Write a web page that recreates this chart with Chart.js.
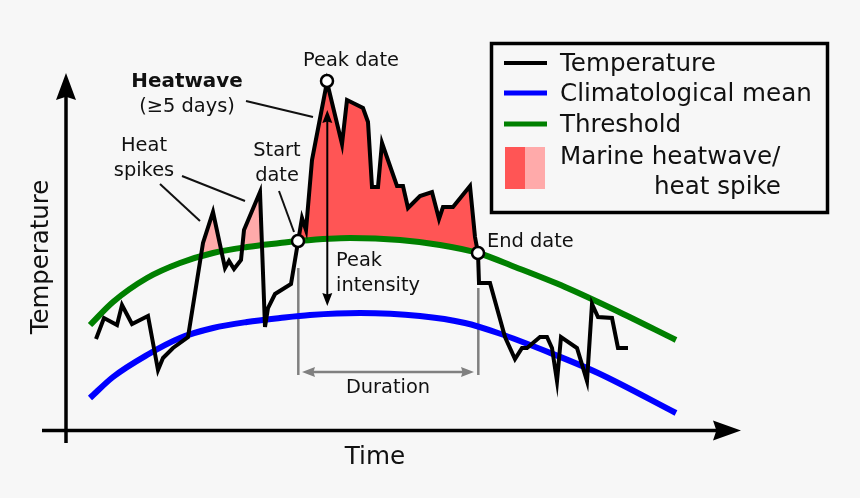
<!DOCTYPE html>
<html>
<head>
<meta charset="utf-8">
<style>
body { margin: 0; background: #f7f7f7; }
canvas { display: block; }
</style>
<script src="https://cdn.jsdelivr.net/npm/chart.js@4"></script>
</head>
<body>
<canvas id="chart" width="860" height="498"></canvas>
<script>
// Time and temperature are in arbitrary units
const tempTime = [3.0,3.8,5.1,5.6,6.6,8.2,9.2,9.7,10.7,12.2,13.7,14.7,15.9,16.3,16.8,17.5,17.8,19.4,19.9,20.2,20.9,22.5,23.2,
  23.6,24.0,24.6,26.1,27.6,28.1,29.7,30.2,30.6,31.2,31.6,33.1,33.7,34.2,35.4,36.6,37.3,37.7,38.7,40.4,40.9,41.2,
  41.3,42.4,43.9,44.9,45.6,46.1,47.4,48.1,48.6,49.1,49.5,51.1,52.1,52.6,53.2,54.6,55.2,56.2];
const temperature = [9.1,11.2,10.5,12.5,10.6,11.4,6.0,7.2,8.2,9.3,18.7,21.8,16.2,16.9,16.1,17.0,20.0,23.8,10.3,12.2,13.6,14.6,18.8,
  21.2,20.0,27.0,34.8,28.6,33.0,32.2,30.8,24.3,24.3,28.7,24.4,24.4,22.2,23.4,23.8,21.1,22.3,22.3,24.4,19.3,17.7,
  14.7,14.7,9.3,7.1,8.2,8.2,9.3,9.3,8.2,4.9,9.3,8.2,4.9,12.6,11.3,11.2,8.2,8.2];

const threshTime = [2.4,4.7,8.1,11.4,14.7,18.1,21.4,23.2,28.4,33.4,37.4,41.2,44.9,49.9,54.9,61.0];
const threshold = [10.5,12.8,15.2,16.7,17.7,18.3,18.7,18.9,19.2,19.0,18.5,17.7,16.3,14.3,12.0,9.0];

const meanTime = [2.4,4.7,8.1,11.4,14.7,18.1,21.4,24.4,29.4,35.4,39.9,43.2,48.2,53.2,61.0];
const climMean = [3.2,5.3,7.5,9.2,10.2,10.8,11.2,11.5,11.7,11.4,10.7,9.7,7.8,5.7,1.7];

const keyTime = [23.2,26.1,41.2];
const keyTemp = [18.9,34.9,17.7];

const pairs = (xs, ys) => xs.map((x, i) => ({ x: x, y: ys[i] }));
const tempPoints = pairs(tempTime, temperature);

const DARK_RED = "#ff5555";
const LIGHT_RED = "#ffaaaa";
const INK = "#111";
const GREY = "#808080";
const FONT = "'DejaVu Sans'";

function fillAbove(points, color) {
  return {
    data: points,
    borderWidth: 0,
    pointRadius: 0,
    order: 5,
    fill: { target: 3, above: color, below: "rgba(0,0,0,0)" }
  };
}

// ------------------------------------------------------
// Axes, labels and legend box
// ------------------------------------------------------

function line(ctx, x1, y1, x2, y2, color, width) {
  ctx.strokeStyle = color;
  ctx.lineWidth = width;
  ctx.beginPath();
  ctx.moveTo(x1, y1);
  ctx.lineTo(x2, y2);
  ctx.stroke();
}

function head(ctx, x, y, angle, len, wide, color) {
  ctx.save();
  ctx.translate(x, y);
  ctx.rotate(angle);
  ctx.fillStyle = color;
  ctx.beginPath();
  ctx.moveTo(0, 0);
  ctx.lineTo(-len, wide / 2);
  ctx.lineTo(-len * 0.88, 0);
  ctx.lineTo(-len, -wide / 2);
  ctx.closePath();
  ctx.fill();
  ctx.restore();
}

function label(ctx, text, x, y, size, align, weight) {
  ctx.font = (weight || "normal") + " " + size + "px " + FONT;
  ctx.fillStyle = INK;
  ctx.textAlign = align || "center";
  ctx.textBaseline = "middle";
  ctx.fillText(text, x, y);
}

const decorations = {
  id: "decorations",
  beforeDatasetsDraw(chart) {
    const ctx = chart.ctx;
    ctx.save();
    // duration guides
    line(ctx, 298.3, 268, 298.3, 375, GREY, 2.5);
    line(ctx, 478.3, 288, 478.3, 375, GREY, 2.5);
    line(ctx, 310, 372, 466, 372, GREY, 2.5);
    head(ctx, 302, 372, Math.PI, 13, 10, GREY);
    head(ctx, 474, 372, 0, 13, 10, GREY);
    ctx.restore();
  },
  afterDatasetsDraw(chart) {
    const ctx = chart.ctx;
    ctx.save();

    // axes
    line(ctx, 66, 443, 66, 95, "#000", 3.5);
    head(ctx, 66, 73, -Math.PI / 2, 27, 20, "#000");
    line(ctx, 42, 430.5, 720, 430.5, "#000", 3.5);
    head(ctx, 741, 430.5, 0, 28, 20, "#000");

    // leaders
    line(ctx, 160, 184, 200, 221, INK, 2);
    line(ctx, 182, 176, 245, 201, INK, 2);
    line(ctx, 279, 191, 294, 232, INK, 2);
    line(ctx, 246, 101, 313, 117, INK, 2);

    // peak intensity arrow
    line(ctx, 327.3, 120, 327.3, 296, "#000", 2);
    head(ctx, 327.3, 110, -Math.PI / 2, 13, 10, "#000");
    head(ctx, 327.3, 306, Math.PI / 2, 13, 10, "#000");

    label(ctx, "Peak date", 351, 61, 19.4);
    label(ctx, "Heatwave", 187, 82, 19.9, "center", "bold");
    label(ctx, "(≥5 days)", 187, 107, 19.4);
    label(ctx, "Heat", 144, 146, 19.4);
    label(ctx, "spikes", 144, 171, 19.4);
    label(ctx, "Start", 277, 151, 19.4);
    label(ctx, "date", 277, 176, 19.4);
    label(ctx, "Peak", 336, 261, 19.4, "left");
    label(ctx, "intensity", 336, 286, 19.4, "left");
    label(ctx, "Duration", 388, 388, 19.4);
    label(ctx, "End date", 487, 242, 19.4, "left");
    label(ctx, "Time", 375, 458, 24.7);

    ctx.save();
    ctx.translate(42, 257);
    ctx.rotate(-Math.PI / 2);
    label(ctx, "Temperature", 0, 0, 24.4);
    ctx.restore();

    // legend
    ctx.strokeStyle = "#000";
    ctx.lineWidth = 3.5;
    ctx.strokeRect(491.5, 43.5, 336, 169);
    line(ctx, 504, 63, 547, 63, "#000", 4);
    line(ctx, 504, 93, 547, 93, "#0000ff", 5);
    line(ctx, 504, 124, 547, 124, "#008000", 5);
    ctx.fillStyle = DARK_RED;
    ctx.fillRect(505, 147, 20, 42);
    ctx.fillStyle = LIGHT_RED;
    ctx.fillRect(525, 147, 20, 42);
    label(ctx, "Temperature", 560, 65, 24.6, "left");
    label(ctx, "Climatological mean", 560, 95, 24.6, "left");
    label(ctx, "Threshold", 560, 126, 24.6, "left");
    label(ctx, "Marine heatwave/", 560, 158, 24.6, "left");
    label(ctx, "heat spike", 781, 188, 24.6, "right");

    ctx.restore();
  }
};

// ------------------------------------------------------
// Chart
// ------------------------------------------------------

new Chart(document.getElementById("chart"), {
  type: "line",
  data: {
    datasets: [
      {
        // key dates
        data: pairs(keyTime, keyTemp),
        showLine: false,
        pointRadius: 6,
        pointBorderWidth: 2.5,
        pointBackgroundColor: "#fff",
        pointBorderColor: "#000",
        order: 0
      },
      {
        data: tempPoints,
        borderColor: "#000",
        borderWidth: 4,
        pointRadius: 0,
        order: 1
      },
      {
        data: pairs(meanTime, climMean),
        borderColor: "#0000ff",
        borderWidth: 6,
        pointRadius: 0,
        cubicInterpolationMode: "monotone",
        order: 3
      },
      {
        data: pairs(threshTime, threshold),
        borderColor: "#008000",
        borderWidth: 6,
        pointRadius: 0,
        cubicInterpolationMode: "monotone",
        order: 2
      },
      fillAbove(tempPoints.slice(9, 13), LIGHT_RED),
      fillAbove(tempPoints.slice(15, 19), LIGHT_RED),
      fillAbove(tempPoints.slice(22, 45), DARK_RED)
    ]
  },
  options: {
    responsive: false,
    animation: false,
    layout: { padding: 0, autoPadding: false },
    plugins: {
      legend: { display: false },
      tooltip: { enabled: false }
    },
    scales: {
      x: { type: "linear", display: false, min: -6.6, max: 79.4 },
      y: { display: false, min: -6.8, max: 43.0 }
    }
  },
  plugins: [decorations]
});
</script>
</body>
</html>
